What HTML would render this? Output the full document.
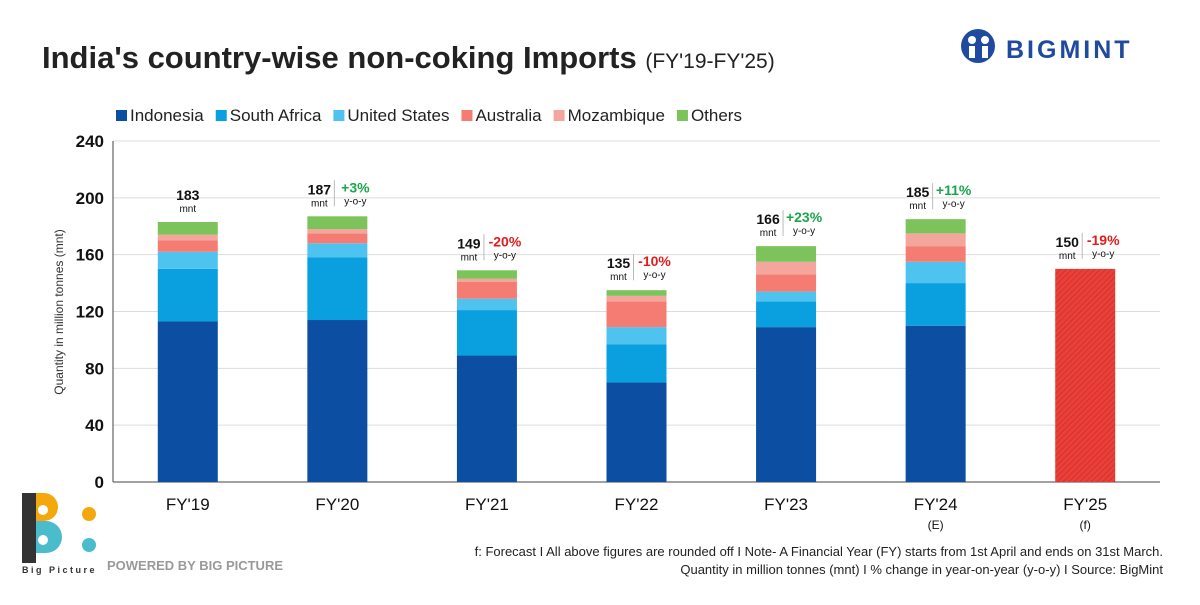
<!DOCTYPE html>
<html><head><meta charset="utf-8"><style>
body{margin:0;background:#fff;width:1200px;height:600px;overflow:hidden;font-family:"Liberation Sans",sans-serif;}
svg text{font-family:"Liberation Sans",sans-serif;}
</style></head><body>
<svg id="c" width="1200" height="600" xmlns="http://www.w3.org/2000/svg">
<defs>
<pattern id="hatch" width="4" height="4" patternUnits="userSpaceOnUse" patternTransform="rotate(45)">
<rect width="4" height="4" fill="#e8403a"/><line x1="0" y1="0" x2="0" y2="4" stroke="#d42a28" stroke-width="1.5"/>
</pattern>
</defs>
<text x="42" y="68" font-size="31" font-weight="bold" fill="#222">India's country-wise non-coking Imports <tspan font-size="21" font-weight="normal">(FY'19-FY'25)</tspan></text>
<g>
<circle cx="978" cy="46" r="17" fill="#1f4aa0"/>
<circle cx="972" cy="40" r="4" fill="#fff"/><circle cx="985" cy="40" r="4" fill="#fff"/>
<rect x="969" y="46" width="6" height="12" fill="#fff"/><rect x="982" y="46" width="6" height="12" fill="#fff"/>
<text x="1006" y="58" font-size="25" font-weight="bold" fill="#1f4aa0" letter-spacing="3">BIGMINT</text>
</g>
<g id="legend"></g>
<g id="grid"></g>
<g id="bars"></g>
<g id="labels"></g>
<text transform="translate(63,312) rotate(-90)" text-anchor="middle" font-size="12" fill="#333">Quantity in million tonnes (mnt)</text>
<g>
<path d="M22 493 h14 v70 h-14 z" fill="#333"/>
<path d="M36 493 h8 a14 14 0 0 1 0 28 h-8 z" fill="#f5a80d"/>
<path d="M36 521 h10 a16 16 0 0 1 0 32 h-10 z" fill="#4bbccc"/>
<circle cx="43" cy="510" r="5" fill="#fff"/><circle cx="43" cy="540" r="5" fill="#fff"/>
<circle cx="89" cy="514" r="7" fill="#f5a80d"/><circle cx="89" cy="545" r="7" fill="#4bbccc"/>
<text x="22" y="573" font-size="9" font-weight="bold" fill="#333" letter-spacing="2.5">Big Picture</text>
<text x="107" y="570" font-size="13" font-weight="bold" fill="#999">POWERED BY BIG PICTURE</text>
</g>
<text x="1163" y="556" text-anchor="end" font-size="13" fill="#222">f: Forecast  I  All above figures are rounded off  I  Note- A Financial Year (FY) starts from 1st April and ends on 31st March.</text>
<text x="1163" y="574" text-anchor="end" font-size="13" fill="#222">Quantity in million tonnes (mnt)  I  % change in year-on-year (y-o-y)  I  Source: BigMint</text>
</svg>
<script>
const categories=["FY'19","FY'20","FY'21","FY'22","FY'23","FY'24","FY'25"];
const subLabels=["","","","","","(E)","(f)"];
const seriesNames=["Indonesia","South Africa","United States","Australia","Mozambique","Others"];
const seriesColors=["#0b4ea2","#0aa0e0","#4fc3f0","#f47c72","#f4a59c","#7dc35b"];
const indonesia=[113,114,89,70,109,110,0];
const southAfrica=[37,44,32,27,18,30,0];
const unitedStates=[12,10,8,12,7,15,0];
const australia=[8,7,12,18,12,11,0];
const mozambique=[4,3,2,4,9,9,0];
const others=[9,9,6,4,11,10,0];
const forecast=[0,0,0,0,0,0,150];
const totals=[183,187,149,135,166,185,150];
const yoy=["","+3%","-20%","-10%","+23%","+11%","-19%"];
const yTicks=[0,40,80,120,160,200,240];
const series=[indonesia,southAfrica,unitedStates,australia,mozambique,others];
const NS="http://www.w3.org/2000/svg";
const X0=113,X1=1160,Y0=482,Y1=141,YMAX=240;
const y=v=>Y0-(v/YMAX)*(Y0-Y1);
const band=(X1-X0)/categories.length;
const xc=i=>X0+band*(i+0.5);
const BW=60;
function mk(tag,attrs,parent,txt){const e=document.createElementNS(NS,tag);for(const k in attrs)e.setAttribute(k,attrs[k]);if(txt!==undefined)e.textContent=txt;parent.appendChild(e);return e;}
const grid=document.getElementById('grid'),bars=document.getElementById('bars'),labels=document.getElementById('labels'),legend=document.getElementById('legend');
yTicks.forEach(t=>{
  const l=mk('line',{x1:X0,x2:X1,y1:y(t),y2:y(t),stroke:t===0?'#444':'#ddd','stroke-width':1},grid);
  
  
  const tx=mk('text',{x:X0-9,y:y(t)+6,'text-anchor':'end','font-size':17,'font-weight':'bold',fill:'#111'},grid,t);
  
  
});
mk('line',{x1:X0,x2:X0,y1:Y1,y2:Y0,stroke:'#444'},grid);
let lx=116;
seriesNames.forEach((n,i)=>{
  const r=mk('rect',{x:lx,y:110,width:11,height:11,fill:seriesColors[i]},legend);
  
  
  const t=mk('text',{x:lx+14,y:121,'font-size':17,fill:'#222'},legend,n);
  
  
  lx+=14+t.getComputedTextLength()+12;
});
categories.forEach((c,i)=>{
  let acc=0;
  series.forEach((s,k)=>{
    if(!s[i])return;
    const r=mk('rect',{x:xc(i)-BW/2,y:y(acc+s[i]),width:BW,height:y(acc)-y(acc+s[i]),fill:seriesColors[k]},bars);
    
    
    acc+=s[i];
  });
  if(forecast[i]){
    const r=mk('rect',{x:xc(i)-BW/2,y:y(forecast[i]),width:BW,height:Y0-y(forecast[i]),fill:'url(#hatch)'},bars);
    
    
  }
  const cl=mk('text',{x:xc(i),y:510,'text-anchor':'middle','font-size':17,fill:'#111'},labels,c);
  
  
  if(subLabels[i]){const s=mk('text',{x:xc(i),y:529,'text-anchor':'middle','font-size':12,fill:'#111'},labels,subLabels[i]);
    
    }
  const top=y(totals[i]);
  const hasY=yoy[i]!=="";
  const cx=hasY?xc(i)-18:xc(i);
  const tt=mk('text',{x:cx,y:top-22,'text-anchor':'middle','font-size':14,'font-weight':'bold',fill:'#111'},labels,totals[i]);
  
  
  mk('text',{x:cx,y:top-10,'text-anchor':'middle','font-size':10,fill:'#111'},labels,'mnt');
  if(hasY){
    mk('line',{x1:xc(i)-3,x2:xc(i)-3,y1:top-36,y2:top-10,stroke:'#bbb'},labels);
    const col=yoy[i][0]==='+'?'#1aa64a':'#e21c1c';
    const p=mk('text',{x:xc(i)+18,y:top-24,'text-anchor':'middle','font-size':14,'font-weight':'bold',fill:col},labels,yoy[i]);
    
    
    mk('text',{x:xc(i)+18,y:top-12,'text-anchor':'middle','font-size':10,fill:'#111'},labels,'y-o-y');
  }
});
</script>
</body></html>
